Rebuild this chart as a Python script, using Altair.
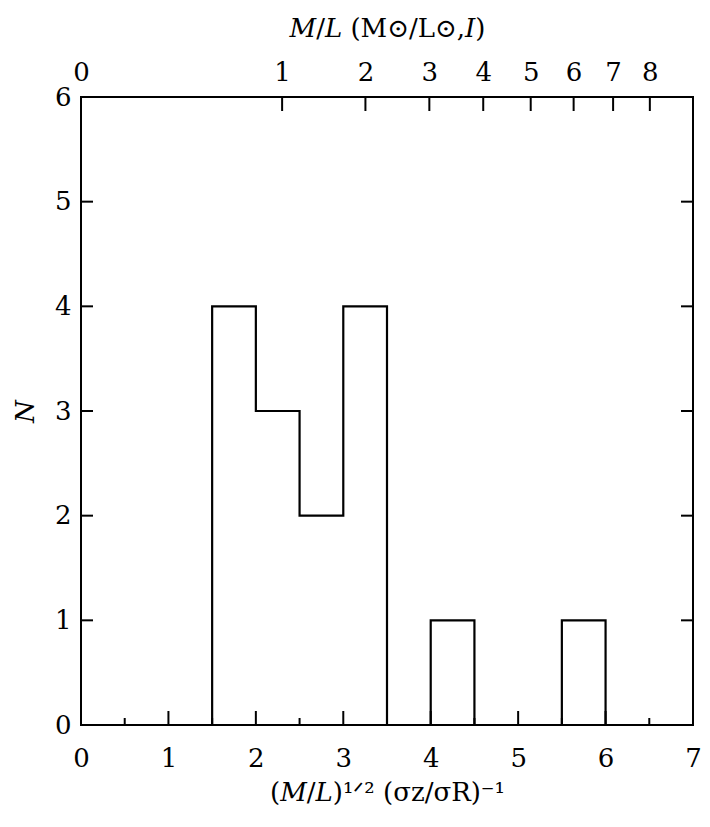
import altair as alt
import pandas as pd

# Histogram (bin edges and counts per bin)
bin_edges = [0.0, 0.5, 1.0, 1.5, 2.0, 2.5, 3.0, 3.5, 4.0, 4.5, 5.0, 5.5, 6.0, 6.5, 7.0]
bin_counts = [0, 0, 0, 4, 3, 2, 4, 0, 1, 0, 0, 1, 0, 0]

# Bottom axis ticks
x_major = [0, 1, 2, 3, 4, 5, 6, 7]
x_minor = [0.5, 1.5, 2.5, 3.5, 4.5, 5.5, 6.5]
# Left axis ticks
y_ticks = [0, 1, 2, 3, 4, 5, 6]
# Top axis (M/L) ticks
ml_ticks = [0, 1, 2, 3, 4, 5, 6, 7, 8]
ML_MAX = 9.26  # M/L value at the right edge

W, H = 612, 628
FONT = "DejaVu Serif"
FS = 26

step_df = pd.DataFrame({"x": bin_edges, "n": bin_counts + [0]})

xs = alt.Scale(domain=[0, 7], nice=False, zero=False)
ys = alt.Scale(domain=[0, 6], nice=False, zero=False)

xaxis = alt.Axis(values=x_major, tickSize=0, domain=False, grid=False, labelFlush=False,
                 labelPadding=20, title="(𝑀/𝐿)¹ᐟ² (σz/σR)⁻¹", titlePadding=8,
                 format="d")
yaxis = alt.Axis(values=y_ticks, tickSize=0, domain=False, grid=False, labelFlush=False,
                 labelPadding=10, title="N", titleFontStyle="italic", titlePadding=16,
                 format="d")

line = alt.Chart(step_df).mark_line(
    interpolate="step-after", color="black", strokeWidth=2.2
).encode(
    x=alt.X("x:Q", scale=xs, axis=xaxis),
    y=alt.Y("n:Q", scale=ys, axis=yaxis),
)

xmaj = alt.Chart(pd.DataFrame({"t": x_major[1:-1]})).mark_rule(
    color="black", strokeWidth=2
).encode(x=alt.X("t:Q", scale=xs, axis=xaxis), y=alt.value(H), y2=alt.value(H - 14))

xmin = alt.Chart(pd.DataFrame({"t": x_minor})).mark_rule(
    color="black", strokeWidth=2
).encode(x=alt.X("t:Q", scale=xs, axis=xaxis), y=alt.value(H), y2=alt.value(H - 7))

yl = alt.Chart(pd.DataFrame({"t": y_ticks[1:-1]})).mark_rule(
    color="black", strokeWidth=2
).encode(y=alt.Y("t:Q", scale=ys, axis=yaxis), x=alt.value(0), x2=alt.value(12))

yr = alt.Chart(pd.DataFrame({"t": y_ticks[1:-1]})).mark_rule(
    color="black", strokeWidth=2
).encode(y=alt.Y("t:Q", scale=ys, axis=yaxis), x=alt.value(W), x2=alt.value(W - 12))

base = alt.layer(line, xmaj, xmin, yl, yr)

top = alt.Chart(pd.DataFrame({"ml": ml_ticks[1:]})).mark_rule(
    color="black", strokeWidth=2
).encode(
    x=alt.X("ml:Q", scale=alt.Scale(type="sqrt", domain=[0, ML_MAX], nice=False, zero=False),
            axis=alt.Axis(orient="top", values=ml_ticks, tickSize=0, domain=False, grid=False,
                          labelFlush=False, labelPadding=12,
                          title="𝑀/𝐿 (M⊙/L⊙,𝐼)", titlePadding=18,
                          format="d")),
    y=alt.value(0), y2=alt.value(14),
)

chart = alt.layer(base, top).resolve_scale(x="independent").properties(
    width=W, height=H, background="white",
    autosize=alt.AutoSizeParams(type="none"),
    padding={"left": 73, "top": 89, "right": 9, "bottom": 90},
).configure_view(
    stroke="black", strokeWidth=2
).configure_axis(
    labelFont=FONT, titleFont=FONT, labelFontSize=FS, titleFontSize=FS,
    titleFontWeight="normal", labelColor="black", titleColor="black",
)

chart.save("out.html", embed_options={"renderer": "svg", "actions": False})
